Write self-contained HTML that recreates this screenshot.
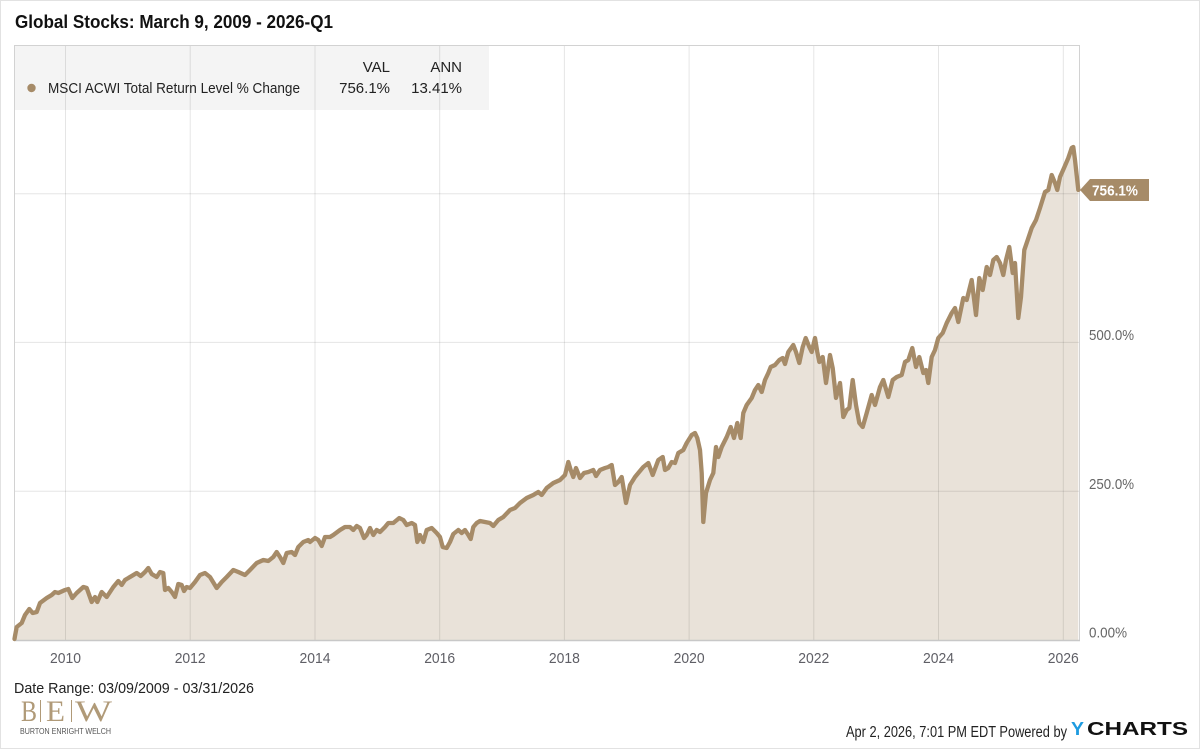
<!DOCTYPE html>
<html><head><meta charset="utf-8"><style>
html,body{margin:0;padding:0;background:#fff;}
svg{display:block;}
text{font-family:"Liberation Sans",sans-serif;}
</style></head><body>
<svg width="1200" height="749" viewBox="0 0 1200 749" xmlns="http://www.w3.org/2000/svg">
<rect x="0" y="0" width="1200" height="749" fill="#fff"/>
<rect x="0.5" y="0.5" width="1199" height="748" fill="none" stroke="#e2e2e2" stroke-width="1"/>

<!-- title -->
<text x="15" y="28" font-size="18" font-weight="bold" fill="#111" textLength="318" lengthAdjust="spacingAndGlyphs">Global Stocks: March 9, 2009 - 2026-Q1</text>

<!-- legend bg -->
<rect x="14" y="45" width="475" height="65" fill="#f4f4f4"/>

<!-- area fill -->
<polygon fill="#e9e2d9" points="14.5,640 14.5,639 15,636 16.7,627 21.7,623 25,615 29.3,609 32.7,613 36.7,612 40,603 46.7,598 51.7,595 55,592 58.3,593 65,590 68.3,589 72.3,598 76.7,593 83.3,587 86.7,588 91.7,602 95,597 97.3,602 101.7,592 106.7,597 113.3,587 118.3,581 121.7,585 125,580 131.7,576 136.7,573 140.7,576 145,572 148.3,568 151.7,574 156.7,577 160,572 163.3,573 165,590 168.3,588 171.7,592 175,597 178.3,584 181.7,585 184,591 186.7,587 190,588 195,582 200,575 205,573 210,577 216.7,588 221.7,582 226.7,577 233.3,570 238.3,572 245,575 250,570 256.7,563 263.3,560 268.3,561 273.3,557 276.7,552 280,557 283.3,563 286.7,553 291.7,552 295,555 298.3,547 303.3,542 308.3,540 310,542 315,538 318.3,540 321.7,546 325,537 330,537 333.3,535 340,530 345,527 350,527 353.3,530 356.7,526 360,528 364,538 366.7,535 370,528 373.3,535 376.7,530 380,532 385,527 388.3,523 393.3,523 399.3,518 403.3,520 406.7,525 411.7,523 415,525 417.3,542 420,535 423.3,542 426.7,530 431.7,528 436.7,533 440,537 442.7,547 446.7,548 450,542 453.3,534 458.3,530 461.7,533 465,530 468.3,535 470.7,539 473.3,527 476.7,523 480,521 485,522 490,523 493.3,526 498.3,520 503.3,517 510,510 515,508 520,503 526.7,498 533.3,495 538.3,492 541.7,495 546.7,488 553.3,483 560,480 565,475 568.3,462 570.7,470 573.3,477 576,468 580,478 584,473 588.3,472 593.3,470 596,476 600,470 605,468 608.3,467 611.7,465 615,485 618.3,482 621.7,477 626,503 630,485 635,477 638.3,473 643.3,467 648.3,463 652.7,475 658.3,460 662.7,457 665,470 668.3,468 671.7,462 675,463 678.3,453 683.3,450 686.7,443 691.7,435 695,433 697.3,438 700,450 701.7,473 703.3,522 706,493 710,480 713.3,473 716,447 718.3,457 721.7,447 726.7,437 730.7,427 734,438 737.3,423 740.7,438 743.3,413 746.7,405 751.7,398 755,390 758.3,385 761.7,392 765,380 768.3,373 770.7,367 775,365 779.3,360 782.7,358 785,364 788.3,352 793.3,345 796,352 799.3,363 802.7,347 805.7,338 809.3,347 811.7,352 815,338 817.3,352 819.3,362 822.7,357 826,383 830,355 832.7,368 836,398 840,383 843.3,417 846.7,410 849.3,408 852.7,380 856,405 859.3,423 862.7,427 866.7,413 871.7,395 875,405 880,387 883.3,380 888.3,397 892.7,380 896.7,377 901.7,375 905,362 908.3,360 912.3,348 916,367 919.3,357 923.3,373 926,370 928.3,383 931.7,357 935,350 938.3,338 942.7,333 946.7,323 951.7,313 955,308 958.3,322 963.3,298 966.7,300 971.7,280 976,315 979.3,278 982.7,290 986.7,267 990,275 993.3,260 996.7,257 1000,263 1003.3,275 1006,260 1009.3,247 1012.7,273 1015,263 1018.3,318 1021,297 1024.3,250 1027.7,240 1031.7,228 1036,220 1040,208 1045,192 1048.3,190 1051.7,175 1055,183 1057.3,190 1060,177 1064,168 1068.3,158 1071.7,148 1073.3,147 1075,160 1078.3,190 1078.3,640"/>

<!-- gridlines -->
<g stroke="#000" stroke-opacity="0.1" stroke-width="1">
<line x1="65.5" y1="45" x2="65.5" y2="640"/>
<line x1="190.2" y1="45" x2="190.2" y2="640"/>
<line x1="315" y1="45" x2="315" y2="640"/>
<line x1="439.7" y1="45" x2="439.7" y2="640"/>
<line x1="564.4" y1="45" x2="564.4" y2="640"/>
<line x1="689.1" y1="45" x2="689.1" y2="640"/>
<line x1="813.8" y1="45" x2="813.8" y2="640"/>
<line x1="938.5" y1="45" x2="938.5" y2="640"/>
<line x1="1063.3" y1="45" x2="1063.3" y2="640"/>
<line x1="14" y1="193.8" x2="1079" y2="193.8"/>
<line x1="14" y1="342.4" x2="1079" y2="342.4"/>
<line x1="14" y1="491.2" x2="1079" y2="491.2"/>
</g>
<!-- frame -->
<rect x="14.5" y="45.5" width="1065" height="595" fill="none" stroke="#d2d2d2" stroke-width="1"/>
<line x1="14" y1="640.5" x2="1080" y2="640.5" stroke="#c8c8c8" stroke-width="1.5"/>

<!-- series line -->
<polyline fill="none" stroke="#a68b68" stroke-width="4.3" stroke-linejoin="round" stroke-linecap="round" points="14.5,639 15,636 16.7,627 21.7,623 25,615 29.3,609 32.7,613 36.7,612 40,603 46.7,598 51.7,595 55,592 58.3,593 65,590 68.3,589 72.3,598 76.7,593 83.3,587 86.7,588 91.7,602 95,597 97.3,602 101.7,592 106.7,597 113.3,587 118.3,581 121.7,585 125,580 131.7,576 136.7,573 140.7,576 145,572 148.3,568 151.7,574 156.7,577 160,572 163.3,573 165,590 168.3,588 171.7,592 175,597 178.3,584 181.7,585 184,591 186.7,587 190,588 195,582 200,575 205,573 210,577 216.7,588 221.7,582 226.7,577 233.3,570 238.3,572 245,575 250,570 256.7,563 263.3,560 268.3,561 273.3,557 276.7,552 280,557 283.3,563 286.7,553 291.7,552 295,555 298.3,547 303.3,542 308.3,540 310,542 315,538 318.3,540 321.7,546 325,537 330,537 333.3,535 340,530 345,527 350,527 353.3,530 356.7,526 360,528 364,538 366.7,535 370,528 373.3,535 376.7,530 380,532 385,527 388.3,523 393.3,523 399.3,518 403.3,520 406.7,525 411.7,523 415,525 417.3,542 420,535 423.3,542 426.7,530 431.7,528 436.7,533 440,537 442.7,547 446.7,548 450,542 453.3,534 458.3,530 461.7,533 465,530 468.3,535 470.7,539 473.3,527 476.7,523 480,521 485,522 490,523 493.3,526 498.3,520 503.3,517 510,510 515,508 520,503 526.7,498 533.3,495 538.3,492 541.7,495 546.7,488 553.3,483 560,480 565,475 568.3,462 570.7,470 573.3,477 576,468 580,478 584,473 588.3,472 593.3,470 596,476 600,470 605,468 608.3,467 611.7,465 615,485 618.3,482 621.7,477 626,503 630,485 635,477 638.3,473 643.3,467 648.3,463 652.7,475 658.3,460 662.7,457 665,470 668.3,468 671.7,462 675,463 678.3,453 683.3,450 686.7,443 691.7,435 695,433 697.3,438 700,450 701.7,473 703.3,522 706,493 710,480 713.3,473 716,447 718.3,457 721.7,447 726.7,437 730.7,427 734,438 737.3,423 740.7,438 743.3,413 746.7,405 751.7,398 755,390 758.3,385 761.7,392 765,380 768.3,373 770.7,367 775,365 779.3,360 782.7,358 785,364 788.3,352 793.3,345 796,352 799.3,363 802.7,347 805.7,338 809.3,347 811.7,352 815,338 817.3,352 819.3,362 822.7,357 826,383 830,355 832.7,368 836,398 840,383 843.3,417 846.7,410 849.3,408 852.7,380 856,405 859.3,423 862.7,427 866.7,413 871.7,395 875,405 880,387 883.3,380 888.3,397 892.7,380 896.7,377 901.7,375 905,362 908.3,360 912.3,348 916,367 919.3,357 923.3,373 926,370 928.3,383 931.7,357 935,350 938.3,338 942.7,333 946.7,323 951.7,313 955,308 958.3,322 963.3,298 966.7,300 971.7,280 976,315 979.3,278 982.7,290 986.7,267 990,275 993.3,260 996.7,257 1000,263 1003.3,275 1006,260 1009.3,247 1012.7,273 1015,263 1018.3,318 1021,297 1024.3,250 1027.7,240 1031.7,228 1036,220 1040,208 1045,192 1048.3,190 1051.7,175 1055,183 1057.3,190 1060,177 1064,168 1068.3,158 1071.7,148 1073.3,147 1075,160 1078.3,190"/>

<!-- legend text -->
<circle cx="31.5" cy="88" r="4.2" fill="#a68b68"/>
<text x="48" y="93" font-size="15" fill="#222" textLength="252" lengthAdjust="spacingAndGlyphs">MSCI ACWI Total Return Level % Change</text>
<text x="390" y="72" font-size="15" fill="#222" text-anchor="end">VAL</text>
<text x="462" y="72" font-size="15" fill="#222" text-anchor="end">ANN</text>
<text x="390" y="93" font-size="15" fill="#222" text-anchor="end">756.1%</text>
<text x="462" y="93" font-size="15" fill="#222" text-anchor="end">13.41%</text>

<!-- callout -->
<path d="M1080,190 L1090,179 L1149,179 L1149,201 L1090,201 Z" fill="#a68b68"/>
<text x="1092" y="195.5" font-size="14.5" font-weight="bold" fill="#fff" textLength="46" lengthAdjust="spacingAndGlyphs">756.1%</text>

<!-- y labels -->
<g font-size="15" fill="#666">
<text x="1089" y="340" textLength="45" lengthAdjust="spacingAndGlyphs">500.0%</text>
<text x="1089" y="489" textLength="45" lengthAdjust="spacingAndGlyphs">250.0%</text>
<text x="1089" y="637.5" textLength="38" lengthAdjust="spacingAndGlyphs">0.00%</text>
</g>

<!-- x labels -->
<g font-size="15" fill="#5f5f66" text-anchor="middle">
<text x="65.5" y="663" textLength="31" lengthAdjust="spacingAndGlyphs">2010</text>
<text x="190.2" y="663" textLength="31" lengthAdjust="spacingAndGlyphs">2012</text>
<text x="315" y="663" textLength="31" lengthAdjust="spacingAndGlyphs">2014</text>
<text x="439.7" y="663" textLength="31" lengthAdjust="spacingAndGlyphs">2016</text>
<text x="564.4" y="663" textLength="31" lengthAdjust="spacingAndGlyphs">2018</text>
<text x="689.1" y="663" textLength="31" lengthAdjust="spacingAndGlyphs">2020</text>
<text x="813.8" y="663" textLength="31" lengthAdjust="spacingAndGlyphs">2022</text>
<text x="938.5" y="663" textLength="31" lengthAdjust="spacingAndGlyphs">2024</text>
<text x="1063.3" y="663" textLength="31" lengthAdjust="spacingAndGlyphs">2026</text>
</g>

<!-- footer left -->
<text x="14" y="693" font-size="15" fill="#222" textLength="240" lengthAdjust="spacingAndGlyphs">Date Range: 03/09/2009 - 03/31/2026</text>
<g fill="#b09a78">
<text x="21" y="721" style="font-family:'Liberation Serif',serif;font-size:30px" textLength="16" lengthAdjust="spacingAndGlyphs">B</text>
<text x="46" y="721" style="font-family:'Liberation Serif',serif;font-size:30px" textLength="19" lengthAdjust="spacingAndGlyphs">E</text>
<text x="75" y="721" style="font-family:'Liberation Serif',serif;font-size:30px" textLength="37" lengthAdjust="spacingAndGlyphs">W</text>
</g>
<line x1="40.5" y1="700" x2="40.5" y2="722" stroke="#b09a78" stroke-width="1"/>
<line x1="71.5" y1="700" x2="71.5" y2="722" stroke="#b09a78" stroke-width="1"/>
<text x="20" y="734" font-size="8" fill="#555" textLength="91" lengthAdjust="spacingAndGlyphs">BURTON ENRIGHT WELCH</text>

<!-- footer right -->
<text x="846" y="737" font-size="15.5" fill="#222" textLength="221" lengthAdjust="spacingAndGlyphs">Apr 2, 2026, 7:01 PM EDT Powered by</text>
<text x="1071" y="735" font-size="18" font-weight="bold" fill="#1e9be0" textLength="13" lengthAdjust="spacingAndGlyphs">Y</text>
<text x="1087" y="735" font-size="18" font-weight="bold" fill="#111" textLength="101" lengthAdjust="spacingAndGlyphs">CHARTS</text>
</svg>
</body></html>
